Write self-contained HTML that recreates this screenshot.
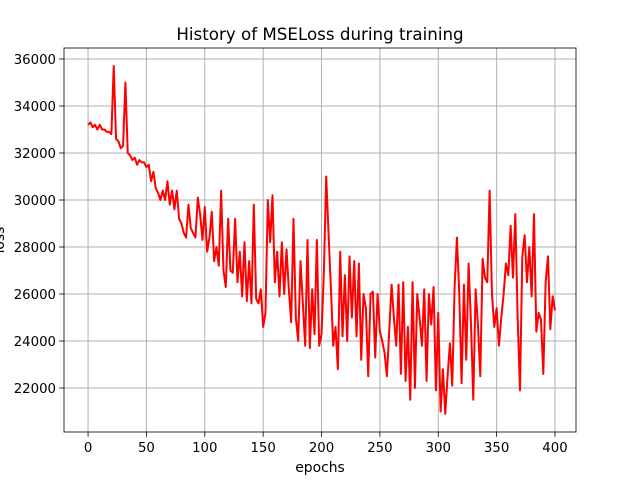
<!DOCTYPE html>
<html><head><meta charset="utf-8"><style>
body{margin:0;background:#fff;}
svg{display:block;font-family:"DejaVu Sans","Liberation Sans",sans-serif;}
</style></head><body>
<svg id="chart" width="640" height="480">
<rect width="640" height="480" fill="#fff"/>
<g id="grid"></g>
<g id="ticks"></g>
<polyline id="line" fill="none" stroke="#ff0000" stroke-width="2" stroke-linejoin="round"/>
<rect x="64" y="48" width="512" height="384" fill="none" stroke="#000" stroke-width="0.8"/>
<text x="320" y="40" text-anchor="middle" font-size="16.7">History of MSELoss during training</text>
<text x="320" y="472" text-anchor="middle" font-size="13.9">epochs</text>
<text transform="translate(4,240) rotate(-90)" text-anchor="middle" font-size="13.9">loss</text>
</svg>
<script>
const epochStep = 2;
const lossValues = [33.2,33.3,33.1,33.2,33.0,33.2,33.0,33.0,32.9,32.9,32.8,35.7,32.6,32.5,32.2,32.3,35.0,32.0,31.9,31.7,31.8,31.5,31.7,31.6,31.6,31.4,31.5,30.8,31.2,30.5,30.3,30.0,30.4,30.0,30.8,29.8,30.4,29.6,30.4,29.2,29.0,28.6,28.4,29.8,28.8,28.6,28.4,30.1,29.4,28.3,29.7,27.8,28.4,29.5,27.4,28.0,27.2,30.4,27.0,26.3,29.2,27.0,26.9,29.2,26.5,27.8,25.9,28.2,25.7,27.4,25.6,29.8,25.8,25.6,26.2,24.6,25.2,30.0,28.2,30.2,26.5,27.8,25.9,28.2,26.0,27.9,26.2,24.8,29.2,25.0,24.0,27.4,25.6,23.8,28.3,23.7,26.2,24.3,28.3,23.8,24.3,26.9,31.0,28.6,26.3,23.8,24.6,22.8,27.8,24.2,26.8,24.0,27.6,25.0,27.4,24.2,27.3,23.2,26.0,25.4,22.5,26.0,26.1,23.3,26.0,24.4,24.0,23.5,22.5,24.4,26.4,25.0,23.8,26.4,22.6,26.5,22.3,24.6,21.5,26.5,22.0,26.0,25.0,23.8,26.2,22.3,26.0,24.7,26.3,21.9,25.2,21.0,22.8,20.9,22.5,23.9,22.1,26.3,28.4,26.0,22.2,26.4,23.2,27.3,24.8,21.5,26.2,24.7,22.5,27.5,26.7,26.5,30.4,26.0,24.6,25.4,23.8,25.0,26.0,27.3,26.8,28.9,26.7,29.4,25.0,21.9,27.6,28.5,26.5,28.0,25.9,29.4,24.4,25.2,24.9,22.6,26.5,27.6,24.5,25.9,25.3];
const xTicks = [0,50,100,150,200,250,300,350,400];
const yTicks = [22000,24000,26000,28000,30000,32000,34000,36000];

const L=64,R=576,T=48,B=432;
const xMin=-20.6,xMax=418,yMin=20128,yMax=36468;
const sx=v=>L+(v-xMin)/(xMax-xMin)*(R-L);
const sy=v=>B-(v-yMin)/(yMax-yMin)*(B-T);
const NS='http://www.w3.org/2000/svg';
const grid=document.getElementById('grid'), ticks=document.getElementById('ticks');
function mk(tag,attrs,parent){const e=document.createElementNS(NS,tag);for(const k in attrs)e.setAttribute(k,attrs[k]);parent.appendChild(e);return e;}
xTicks.forEach(t=>{
  const x=sx(t);
  const g=mk('line',{x1:x,x2:x,y1:T,y2:B,stroke:'#b0b0b0','stroke-width':1},grid);
  
  
  const tk=mk('line',{x1:x,x2:x,y1:B,y2:B+4.9,stroke:'#000','stroke-width':0.8},ticks);
  
  
  const tx=mk('text',{x:x,y:B+20,'text-anchor':'middle','font-size':13.3},ticks);
  tx.textContent=t;
  
  
});
yTicks.forEach(t=>{
  const y=sy(t);
  const g=mk('line',{x1:L,x2:R,y1:y,y2:y,stroke:'#b0b0b0','stroke-width':1},grid);
  
  
  const tk=mk('line',{x1:L-4.9,x2:L,y1:y,y2:y,stroke:'#000','stroke-width':0.8},ticks);
  
  
  const tx=mk('text',{x:L-8,y:y+5,'text-anchor':'end','font-size':13.3},ticks);
  tx.textContent=t;
  
  
});
document.getElementById('line').setAttribute('points',lossValues.map((v,i)=>sx(i*epochStep).toFixed(2)+','+sy(v*1000).toFixed(2)).join(' '));
</script>
</body></html>
